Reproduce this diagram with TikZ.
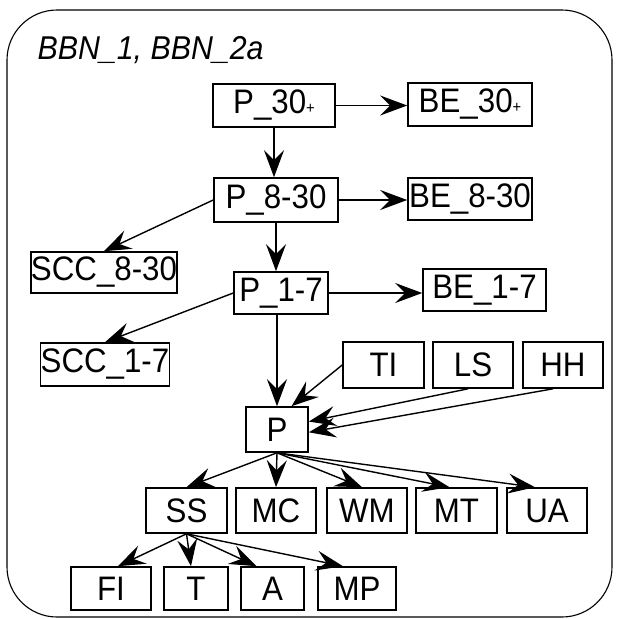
\documentclass[tikz,border=0pt]{standalone}
\usepackage{fontspec}
\setmainfont{Liberation Sans}
\newfontfamily\boxfont[FakeStretch=0.92]{Liberation Sans}
\usetikzlibrary{arrows.meta}
\begin{document}
\begin{tikzpicture}[x=1pt,y=-1pt,
  box/.style={draw, line width=1.6pt, inner sep=0pt, font=\boxfont\fontsize{34}{34}\selectfont},
  arr/.style={line width=1.4pt, -{Stealth[length=27pt,width=20pt,inset=10pt]}},
  frame/.style={line width=1.1pt, rounded corners=50pt}]
\useasboundingbox (0,0) rectangle (617,619);
\draw[frame] (7,10) rectangle (612,617);
\node[anchor=base west, font=\boxfont\itshape\fontsize{33}{33}\selectfont] (title) at (34,59) {BBN\_1, BBN\_2a};
\newcommand{\smallplus}{{\fontsize{16}{16}\selectfont +}}
% row nodes
\node[box, minimum width=122pt, minimum height=43pt] (p30) at (274,105.5) {P\_30\smallplus};
\node[box, minimum width=124pt, minimum height=43pt] (be30) at (470,104.5) {BE\_30\smallplus};
\node[box, minimum width=124pt, minimum height=44pt] (p830) at (276,200) {P\_8-30};
\node[box, minimum width=124pt, minimum height=42pt] (be830) at (470,199) {BE\_8-30};
\node[box, minimum width=146pt, minimum height=41pt] (scc830) at (104,272.5) {SCC\_8-30};
\node[box, minimum width=94pt, minimum height=42pt] (p17) at (281,293) {P\_1-7};
\node[box, minimum width=123pt, minimum height=42pt] (be17) at (484.5,290) {BE\_1-7};
\node[box, minimum width=124pt, minimum height=43pt] (scc17) at (105,364.5) {SCC\_1-7};
\node[box, minimum width=81pt, minimum height=46pt] (ti) at (383.5,365) {TI};
\node[box, minimum width=80pt, minimum height=46pt] (ls) at (473,365) {LS};
\node[box, minimum width=80pt, minimum height=46pt] (hh) at (563,365) {HH};
\node[box, minimum width=62pt, minimum height=45pt] (p) at (277,429.5) {P};
\node[box, minimum width=81pt, minimum height=45pt] (ss) at (186.5,510.5) {SS};
\node[box, minimum width=80pt, minimum height=45pt] (mc) at (276,510.5) {MC};
\node[box, minimum width=80pt, minimum height=45pt] (wm) at (367,510.5) {WM};
\node[box, minimum width=81pt, minimum height=45pt] (mt) at (456.5,510.5) {MT};
\node[box, minimum width=80pt, minimum height=45pt] (ua) at (547,510.5) {UA};
\node[box, minimum width=80pt, minimum height=43pt] (fi) at (111,588.5) {FI};
\node[box, minimum width=64pt, minimum height=43pt] (t) at (196,588.5) {T};
\node[box, minimum width=63pt, minimum height=43pt] (a) at (272.5,588.5) {A};
\node[box, minimum width=78pt, minimum height=43pt] (mp) at (357,588.5) {MP};
% connectors
\draw[arr] (p30.east) -- (p30.east -| be30.west);
\draw[arr] (p30.south) -- (p30.south |- p830.north);
\draw[arr] (p830.east) -- (p830.east -| be830.west);
\draw[arr] (p830.west) -- (scc830.north);
\draw[arr] (p830.south) -- (p830.south |- p17.north);
\draw[arr] (p17.east) -- (p17.east -| be17.west);
\draw[arr] (p17.west) -- (scc17.north);
\draw[arr] (p.north |- p17.south) -- (p.north);
\draw[arr] (ti.west) -- (p.58);
\draw[arr] ([xshift=-5pt]ls.south) -- (p.14);
\draw[arr] ([xshift=-10pt]hh.south) -- (p.-5);
\draw[arr] (p.south) -- (ss.north);
\draw[arr] (p.south) -- (mc.north);
\draw[arr] (p.south) -- ([xshift=-5pt]wm.north);
\draw[arr] (p.south) -- ([xshift=-7pt]mt.north);
\draw[arr] (p.south) -- ([xshift=-12pt]ua.north);
\draw[arr] (ss.south) -- ([xshift=7pt]fi.north);
\draw[arr] (ss.south) -- ([xshift=-5pt]t.north);
\draw[arr] (ss.south) -- ([xshift=-16pt]a.north);
\draw[arr] (ss.south) -- ([xshift=-14pt]mp.north);
\end{tikzpicture}
\end{document}
